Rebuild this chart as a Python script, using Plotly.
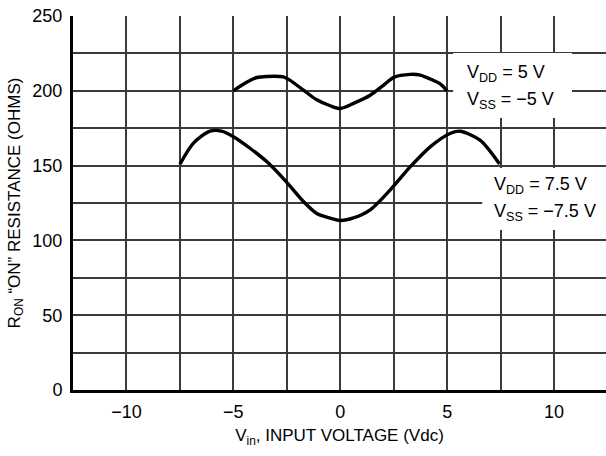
import plotly.graph_objects as go

# ±5 V supply curve
x_5 = [-5.0, -4.4, -3.9, -3.44, -2.66, -2.34, -1.72, -1.1, -0.47, 0.0, 0.62, 1.4, 2.03, 2.5, 3.28, 3.74, 4.35, 4.69, 5.0]
y_5 = [200.0, 205.5, 208.9, 209.6, 209.3, 207.0, 200.4, 194.0, 190.0, 188.2, 191.6, 197.0, 203.8, 209.0, 211.0, 210.5, 207.0, 204.5, 200.0]

# ±7.5 V supply curve
x_75 = [-7.5, -6.875, -6.09, -5.55, -5.0, -4.22, -3.44, -2.53, -1.72, -1.1, -0.47, 0.0, 0.62, 1.4, 2.34, 3.28, 4.22, 5.16, 5.6, 6.54, 7.45]
y_75 = [150.9, 164.9, 173.0, 173.0, 169.3, 161.6, 152.7, 139.3, 126.0, 118.0, 114.9, 113.3, 115.0, 120.4, 133.8, 149.3, 162.7, 171.6, 173.0, 167.0, 151.0]

x_tickvals = [-12.5, -10, -7.5, -5, -2.5, 0, 2.5, 5, 7.5, 10, 12.5]
x_ticktext = ["", "−10", "", "−5", "", "0", "", "5", "", "10", ""]
y_tickvals = [0, 25, 50, 75, 100, 125, 150, 175, 200, 225, 250]
y_ticktext = ["0", "", "50", "", "100", "", "150", "", "200", "", "250"]

# curve labels: lines of text, with label box extents
label_lines_5 = ["V<sub>DD</sub> = 5 V", "V<sub>SS</sub> = −5 V"]
label_lines_75 = ["V<sub>DD</sub> = 7.5 V", "V<sub>SS</sub> = −7.5 V"]

FONT = "Liberation Sans, Arial, sans-serif"

fig = go.Figure()
for xs, ys in [(x_5, y_5), (x_75, y_75)]:
    fig.add_trace(go.Scatter(x=xs, y=ys, mode="lines",
                             line=dict(color="black", width=3.4, shape="spline", smoothing=0.8),
                             showlegend=False, hoverinfo="skip"))

# white label boxes hiding grid lines (between grid and traces)
for (x0, x1, y0, y1) in [(5.28, 10.84, 181.8, 225.3), (6.64, 12.43, 107.0, 148.4)]:
    fig.add_shape(type="rect", xref="x", yref="y", x0=x0, x1=x1, y0=y0, y1=y1,
                  fillcolor="white", line=dict(width=0), layer="between")

for lines, x, ys in [(label_lines_5, 5.84, [211.5, 193.3]), (label_lines_75, 7.1, [136.6, 118.5])]:
    for t, y in zip(lines, ys):
        fig.add_annotation(x=x, y=y, xref="x", yref="y", xanchor="left", yanchor="middle",
                           text=t, showarrow=False,
                           font=dict(family=FONT, size=18, color="black"))

fig.update_layout(
    width=606, height=456,
    margin=dict(l=73, r=0, t=16, b=66),
    paper_bgcolor="white", plot_bgcolor="white",
    font=dict(family=FONT, size=18, color="black"),
    xaxis=dict(range=[-12.5, 12.43], tickvals=x_tickvals, ticktext=x_ticktext,
               showgrid=True, gridcolor="#3a3a3a", gridwidth=1.5,
               showline=True, linecolor="black", linewidth=3, zeroline=False, ticks="",
               ticklabelstandoff=3,
               title=dict(text="V<sub>in</sub>, INPUT VOLTAGE (Vdc)", standoff=9,
                          font=dict(size=17))),
    yaxis=dict(range=[0, 250], tickvals=y_tickvals, ticktext=y_ticktext,
               showgrid=True, gridcolor="#3a3a3a", gridwidth=1.5,
               showline=True, linecolor="black", linewidth=3, zeroline=False, ticks="",
               ticklabelstandoff=4,
               title=dict(text="R<sub>ON</sub> “ON” RESISTANCE (OHMS)", standoff=8,
                          font=dict(size=17))),
)

fig.write_html("out.html")
